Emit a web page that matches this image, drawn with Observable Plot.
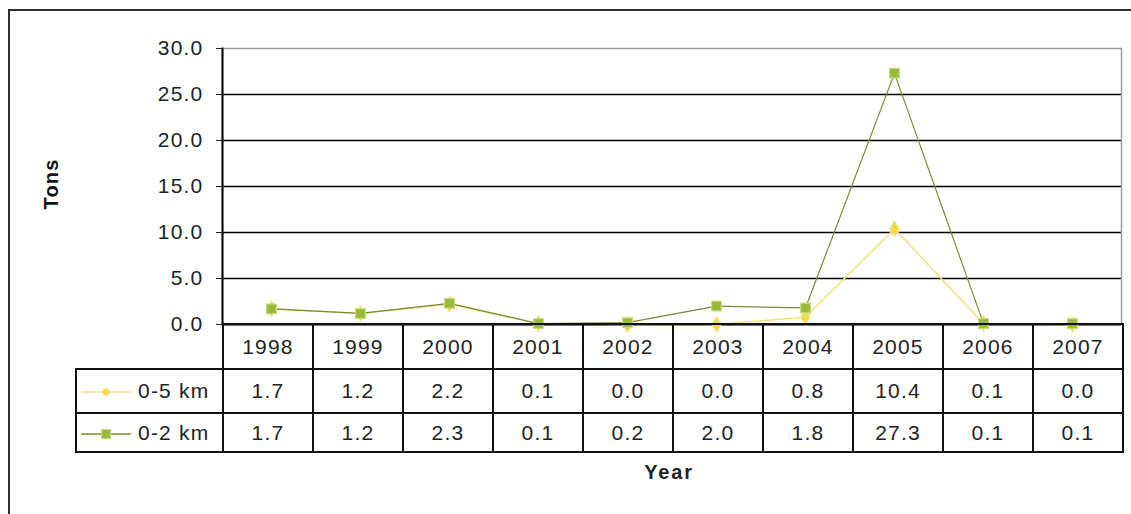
<!DOCTYPE html>
<html>
<head>
<meta charset="utf-8">
<script src="https://cdn.jsdelivr.net/npm/d3@7"></script>
<script src="https://cdn.jsdelivr.net/npm/@observablehq/plot@0.6"></script>
<style>
  html, body { margin: 0; padding: 0; background: #fff; overflow: hidden; }
  body { width: 1131px; height: 514px; position: relative; font-family: "Liberation Sans", Arial, sans-serif; color: #222; }
  #outer { position: absolute; left: 8px; top: 9px; width: 1140px; height: 530px; border: 2px solid #2e2e2e; }
  #chart { position: absolute; left: 0; top: 0; }
  #table { position: absolute; left: 75px; top: 323px; border-collapse: collapse; table-layout: fixed; width: 1047px; font-size: 21px; letter-spacing: 1.2px; }
  #table td { border: 2px solid #111; text-align: center; padding: 0; white-space: nowrap; }
  #table td.blank { border-top: none; border-left: none; }
  #table td.leg { text-align: left; padding-left: 4px; }
  #table td.leg svg { vertical-align: middle; margin-right: 7px; }
  #xlabel { position: absolute; left: 619px; width: 100px; top: 461px; text-align: center; font-weight: bold; font-size: 20px; letter-spacing: 1.8px; }
</style>
</head>
<body>
<div id="outer"></div>
<div id="chart"></div>
<table id="table"></table>
<div id="xlabel">Year</div>
<script>
// ---- data ----
const years = [1998, 1999, 2000, 2001, 2002, 2003, 2004, 2005, 2006, 2007];
const seriesNames = ["0-5 km", "0-2 km"];
const km05 = [1.7, 1.2, 2.2, 0.1, 0.0, 0.0, 0.8, 10.4, 0.1, 0.0];
const km02 = [1.7, 1.2, 2.3, 0.1, 0.2, 2.0, 1.8, 27.3, 0.1, 0.1];
const yTicks = [0, 5, 10, 15, 20, 25, 30];
const yTitle = "Tons";
const xTitle = "Year";

const yellowLine = "#efe27c", yellowDot = "#f2d84c";
const greenLine = "#778a34", greenDot = "#9ab83a";

const rows05 = years.map((y, i) => ({year: y, value: km05[i]}));
const rows02 = years.map((y, i) => ({year: y, value: km02[i]}));

const chart = Plot.plot({
  width: 1131,
  height: 326,
  marginLeft: 222,
  marginRight: 10,
  marginTop: 48,
  marginBottom: 2,
  x: {type: "point", domain: years, padding: 0.5, axis: null},
  y: {domain: [0, 30], ticks: yTicks, tickFormat: d3.format(".1f"), label: null, tickSize: 6, tickPadding: 13},
  style: {fontFamily: "Liberation Sans, Arial, sans-serif", fontSize: "21px", letterSpacing: "1.2px", color: "#222", background: "transparent", overflow: "visible"},
  marks: [
    Plot.ruleY(yTicks.filter(t => t > 0 && t < 30), {stroke: "#000", strokeWidth: 1.6}),
    Plot.frame({stroke: "#9a9a9a", strokeWidth: 1.5}),
    Plot.frame({anchor: "left", stroke: "#000", strokeWidth: 2}),
    Plot.ruleY([0], {stroke: "#000", strokeWidth: 2}),
    Plot.line(rows05, {x: "year", y: "value", stroke: yellowLine, strokeWidth: 1.5}),
    Plot.dot(rows05, {x: "year", y: "value", symbol: "diamond", r: 5, fill: yellowDot, stroke: "#f7ec9a", strokeWidth: 1}),
    Plot.line(rows02, {x: "year", y: "value", stroke: greenLine, strokeWidth: 1.2}),
    Plot.dot(rows02, {x: "year", y: "value", symbol: "square", r: 5.5, fill: greenDot, stroke: "#c8dc7a", strokeWidth: 1.2}),
    Plot.text([yTitle], {frameAnchor: "left", rotate: -90, dx: -171, dy: 23, fontWeight: "bold", fontSize: 20, fill: "#111", style: "letter-spacing:2px"})
  ]
});
document.getElementById("chart").appendChild(chart);

// ---- data table below the plot ----
const table = document.getElementById("table");
const colgroup = document.createElement("colgroup");
colgroup.innerHTML = `<col style="width:147px">` + years.map(() => `<col style="width:90px">`).join("");
table.appendChild(colgroup);

function swatch(color, markColor, symbol) {
  const mark = symbol === "diamond"
    ? `<path d="M25,1.5 L29.5,6 L25,10.5 L20.5,6 Z" fill="${markColor}" stroke="#f7ec9a"/>`
    : `<rect x="20.5" y="1.5" width="9" height="9" fill="${markColor}" stroke="#c8dc7a"/>`;
  return `<svg width="50" height="12"><line x1="0" y1="6" x2="50" y2="6" stroke="${color}" stroke-width="1.3"/>${mark}</svg>`;
}

const headRow = document.createElement("tr");
headRow.style.height = "45px";
headRow.innerHTML = `<td class="blank"></td>` + years.map(y => `<td>${y}</td>`).join("");
table.appendChild(headRow);

const seriesRows = [
  {name: seriesNames[0], vals: km05, line: yellowLine, dot: yellowDot, sym: "diamond", h: 44},
  {name: seriesNames[1], vals: km02, line: greenLine, dot: greenDot, sym: "square", h: 39}
];
for (const s of seriesRows) {
  const tr = document.createElement("tr");
  tr.style.height = s.h + "px";
  tr.innerHTML = `<td class="leg">${swatch(s.line, s.dot, s.sym)}${s.name}</td>` +
    s.vals.map(v => `<td>${d3.format(".1f")(v)}</td>`).join("");
  table.appendChild(tr);
}
document.getElementById("xlabel").textContent = xTitle;
</script>
</body>
</html>
